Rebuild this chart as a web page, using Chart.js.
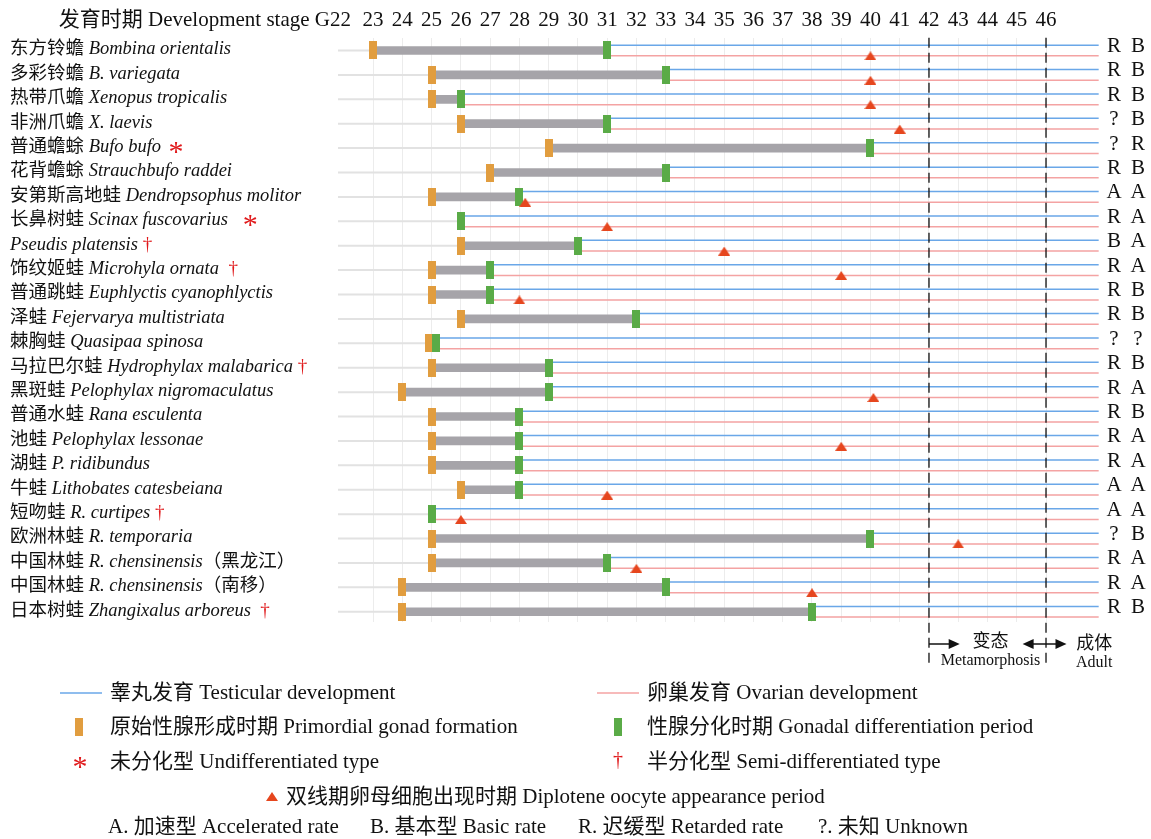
<!DOCTYPE html>
<html>
<head>
<meta charset="utf-8">
<script src="https://cdn.jsdelivr.net/npm/chart.js@4.4.0/dist/chart.umd.min.js"></script>
<style>
  html, body { margin: 0; padding: 0; background: #fff; }
</style>
</head>
<body>
<canvas id="myChart" width="1151" height="839"></canvas>
<script>
// species, top to bottom
const cnNames = ['东方铃蟾','多彩铃蟾','热带爪蟾','非洲爪蟾','普通蟾蜍','花背蟾蜍','安第斯高地蛙','长鼻树蛙','',
  '饰纹姬蛙','普通跳蛙','泽蛙','棘胸蛙','马拉巴尔蛙','黑斑蛙','普通水蛙','池蛙','湖蛙','牛蛙','短吻蛙',
  '欧洲林蛙','中国林蛙','中国林蛙','日本树蛙'];
const latinNames = ['Bombina orientalis','B. variegata','Xenopus tropicalis','X. laevis','Bufo bufo',
  'Strauchbufo raddei','Dendropsophus molitor','Scinax fuscovarius','Pseudis platensis','Microhyla ornata',
  'Euphlyctis cyanophlyctis','Fejervarya multistriata','Quasipaa spinosa','Hydrophylax malabarica',
  'Pelophylax nigromaculatus','Rana esculenta','Pelophylax lessonae','P. ridibundus','Lithobates catesbeiana',
  'R. curtipes','R. temporaria','R. chensinensis','R. chensinensis','Zhangixalus arboreus'];
const suffixes = ['','','','','','','','','','','','','','','','','','','','','','（黑龙江）','（南移）',''];
// * undifferentiated, † semi-differentiated
const notes = ['','','','',' *','','','  *',' †','  †','','','',' †','','','','','',' †','','','','  †'];

// stages (Gosner)
const primordial = [23,25,25,26,29,27,25,null,26,25,25,26,24.9,25,24,25,25,25,26,null,25,25,24,24];
const differentiation = [31,33,26,31,40,33,28,26,30,27,27,32,25.15,29,29,28,28,28,28,25,40,31,33,38];
const diplotene = [40,40,40,41,null,null,28.2,31,35,39,28,null,null,null,40.1,null,39,null,31,26,43,32,38,null];
const testisRate = ['R','R','R','?','?','R','A','R','B','R','R','R','?','R','R','R','R','R','A','A','?','R','R','R'];
const ovaryRate = ['B','B','B','B','R','B','A','A','A','A','B','B','?','B','A','B','A','A','A','A','B','A','A','B'];

const stageTicks = [23,24,25,26,27,28,29,30,31,32,33,34,35,36,37,38,39,40,41,42,43,44,45,46];
const phaseLines = [42, 46];
const lineEnd = 47.8;
const axisStart = 21.8;

const serif = '"Liberation Serif", "Noto Sans CJK SC", serif';
function font(size, italic) { return (italic ? 'italic ' : '') + size + 'px ' + serif; }

function makeRect(w, h, fill) {
  const c = document.createElement('canvas');
  c.width = w; c.height = h;
  const g = c.getContext('2d');
  g.fillStyle = fill; g.fillRect(0, 0, w, h);
  return c;
}
function makeTri(w, h, fill) {
  const c = document.createElement('canvas');
  c.width = w; c.height = h;
  const g = c.getContext('2d');
  g.fillStyle = fill;
  g.beginPath(); g.moveTo(w / 2, 0); g.lineTo(w, h); g.lineTo(0, h); g.closePath(); g.fill();
  return c;
}
const orange = '#e19d3f', green = '#5aab47', tri = '#e6461e';
const blue = '#6aa7e8', pink = '#f4a3a3', redMark = '#e0191b';
const orangeMark = makeRect(8, 18, orange);
const greenMark = makeRect(8, 18, green);
const triMark = makeTri(12, 9, tri);

const rows = cnNames.map((_, i) => i);
const gap = { x: null, y: null };

function rowLines(off) {
  return rows.flatMap(i => [{ x: differentiation[i], y: i + off }, { x: lineEnd, y: i + off }, gap]);
}

const datasets = [
  {
    type: 'line', data: rows.flatMap(i => [{ x: axisStart, y: i }, { x: differentiation[i], y: i }, gap]),
    borderColor: '#e2e2e2', borderWidth: 2, pointRadius: 0, order: 10
  },
  {
    type: 'bar', indexAxis: 'y',
    data: rows.filter(i => primordial[i] != null).map(i => ({ x: [primordial[i], differentiation[i]], y: i })),
    backgroundColor: '#a6a4a9', barThickness: 8, order: 9
  },
  { type: 'line', data: rowLines(-0.22), borderColor: blue, borderWidth: 1.5, pointRadius: 0, order: 8 },
  { type: 'line', data: rowLines(0.22), borderColor: pink, borderWidth: 1.5, pointRadius: 0, order: 7 },
  {
    type: 'line', showLine: false, order: 3, pointStyle: orangeMark, pointRadius: 5,
    data: rows.filter(i => primordial[i] != null).map(i => ({ x: primordial[i], y: i }))
  },
  {
    type: 'line', showLine: false, order: 2, pointStyle: greenMark, pointRadius: 5,
    data: rows.map(i => ({ x: differentiation[i], y: i }))
  },
  {
    type: 'line', showLine: false, order: 1, pointStyle: triMark, pointRadius: 5,
    data: rows.filter(i => diplotene[i] != null).map(i => ({ x: diplotene[i], y: i + 0.22 }))
  }
];
phaseLines.forEach(s => {
  datasets.push({
    type: 'line', data: [{ x: s, y: -0.52 }, { x: s, y: 25.15 }], clip: false,
    borderColor: '#111', borderWidth: 1.3, borderDash: [10, 5], pointRadius: 0, order: 0
  });
});

function arrowHead(ctx, x, y, dir) {
  ctx.beginPath();
  ctx.moveTo(x, y);
  ctx.lineTo(x - dir * 11, y - 5);
  ctx.lineTo(x - dir * 11, y + 5);
  ctx.closePath();
  ctx.fill();
}

const textPlugin = {
  id: 'texts',
  afterDraw(chart) {
    const ctx = chart.ctx, xs = chart.scales.x, ys = chart.scales.y;
    ctx.save();
    ctx.textBaseline = 'middle';
    ctx.fillStyle = '#111';

    // axis title
    ctx.font = font(21);
    ctx.textAlign = 'right';
    ctx.fillText('发育时期 Development stage G22', 351, 20);

    // species labels
    ctx.textAlign = 'left';
    rows.forEach(i => {
      const y = ys.getPixelForValue(i) - 1;
      let x = 10;
      ctx.fillStyle = '#111';
      if (cnNames[i]) {
        ctx.font = font(18.5);
        ctx.fillText(cnNames[i] + ' ', x, y);
        x += ctx.measureText(cnNames[i] + ' ').width;
      }
      ctx.font = font(18.5, true);
      ctx.fillText(latinNames[i], x, y);
      x += ctx.measureText(latinNames[i]).width;
      if (suffixes[i]) {
        ctx.font = font(18.5);
        ctx.fillText(suffixes[i], x, y);
        x += ctx.measureText(suffixes[i]).width;
      }
      if (notes[i]) {
        ctx.fillStyle = redMark;
        const star = notes[i].includes('*');
        ctx.font = font(star ? 30 : 19);
        ctx.fillText(notes[i], x, y + (star ? 6 : 0));
      }
      // rate letters
      ctx.fillStyle = '#111';
      ctx.font = font(21);
      ctx.textAlign = 'center';
      ctx.fillText(testisRate[i], 1114, y - 3);
      ctx.fillText(ovaryRate[i], 1138, y - 3);
      ctx.textAlign = 'left';
    });

    // metamorphosis / adult arrows
    ctx.strokeStyle = '#111';
    ctx.fillStyle = '#111';
    ctx.lineWidth = 1.5;
    const ay = 644;
    const a0 = xs.getPixelForValue(42), a1 = xs.getPixelForValue(43.05);
    ctx.beginPath(); ctx.moveTo(a0, ay); ctx.lineTo(a1 - 4, ay); ctx.stroke();
    arrowHead(ctx, a1, ay, 1);
    const b0 = xs.getPixelForValue(45.2), b1 = xs.getPixelForValue(46.7);
    ctx.beginPath(); ctx.moveTo(b0 + 4, ay); ctx.lineTo(b1 - 4, ay); ctx.stroke();
    arrowHead(ctx, b0, ay, -1);
    arrowHead(ctx, b1, ay, 1);
    ctx.textAlign = 'center';
    ctx.font = font(18);
    ctx.fillText('变态', xs.getPixelForValue(44.1), 642);
    ctx.fillText('成体', xs.getPixelForValue(47.65), 644);
    ctx.font = font(16);
    ctx.fillText('Metamorphosis', xs.getPixelForValue(44.1), 661);
    ctx.fillText('Adult', xs.getPixelForValue(47.65), 663);

    // legend
    ctx.textAlign = 'left';
    ctx.font = font(21);
    ctx.lineWidth = 1.5;
    ctx.strokeStyle = blue;
    ctx.beginPath(); ctx.moveTo(60, 693); ctx.lineTo(102, 693); ctx.stroke();
    ctx.strokeStyle = pink;
    ctx.beginPath(); ctx.moveTo(597, 693); ctx.lineTo(639, 693); ctx.stroke();
    ctx.fillStyle = '#111';
    ctx.fillText('睾丸发育 Testicular development', 110, 693);
    ctx.fillText('卵巢发育 Ovarian development', 647, 693);

    ctx.drawImage(orangeMark, 75, 718);
    ctx.drawImage(greenMark, 614, 718);
    ctx.fillText('原始性腺形成时期 Primordial gonad formation', 110, 727);
    ctx.fillText('性腺分化时期 Gonadal differentiation period', 647, 727);

    ctx.fillStyle = redMark;
    ctx.textAlign = 'center';
    ctx.font = font(30);
    ctx.fillText('*', 80, 768);
    ctx.font = font(20);
    ctx.fillText('†', 618, 761);
    ctx.textAlign = 'left';
    ctx.fillStyle = '#111';
    ctx.font = font(21);
    ctx.fillText('未分化型 Undifferentiated type', 110, 762);
    ctx.fillText('半分化型 Semi-differentiated type', 647, 762);

    ctx.drawImage(triMark, 266, 792);
    ctx.fillText('双线期卵母细胞出现时期 Diplotene oocyte appearance period', 286, 797);

    ctx.fillText('A. 加速型 Accelerated rate', 108, 827);
    ctx.fillText('B. 基本型 Basic rate', 370, 827);
    ctx.fillText('R. 迟缓型 Retarded rate', 578, 827);
    ctx.fillText('?. 未知 Unknown', 818, 827);
    ctx.restore();
  }
};

const ctx = document.getElementById('myChart').getContext('2d');
const myChart = new Chart(ctx, {
  type: 'line',
  data: { datasets: datasets },
  options: {
    responsive: false,
    devicePixelRatio: 1,
    animation: false,
    events: [],
    layout: { padding: { left: 338, right: 49.4, top: 0, bottom: 217 } },
    elements: { line: { tension: 0 } },
    plugins: { legend: { display: false }, tooltip: { enabled: false } },
    scales: {
      x: {
        type: 'linear', position: 'top', min: axisStart, max: 47.9, offset: false,
        afterFit: (scale) => { scale.height = 38; },
        border: { display: false },
        grid: {
          drawTicks: false, offset: false,
          color: (c) => Number.isInteger(c.tick.value) ? '#ececec' : 'rgba(0,0,0,0)'
        },
        ticks: {
          stepSize: 1, autoSkip: false, maxRotation: 0, padding: 5,
          color: '#111', font: { family: '"Liberation Serif", serif', size: 21 },
          callback: (v) => stageTicks.includes(v) ? String(v) : ''
        }
      },
      y: {
        type: 'linear', display: false, reverse: true, offset: false,
        grid: { offset: false }, min: -0.512, max: 23.42
      }
    }
  },
  plugins: [textPlugin]
});
</script>
</body>
</html>
